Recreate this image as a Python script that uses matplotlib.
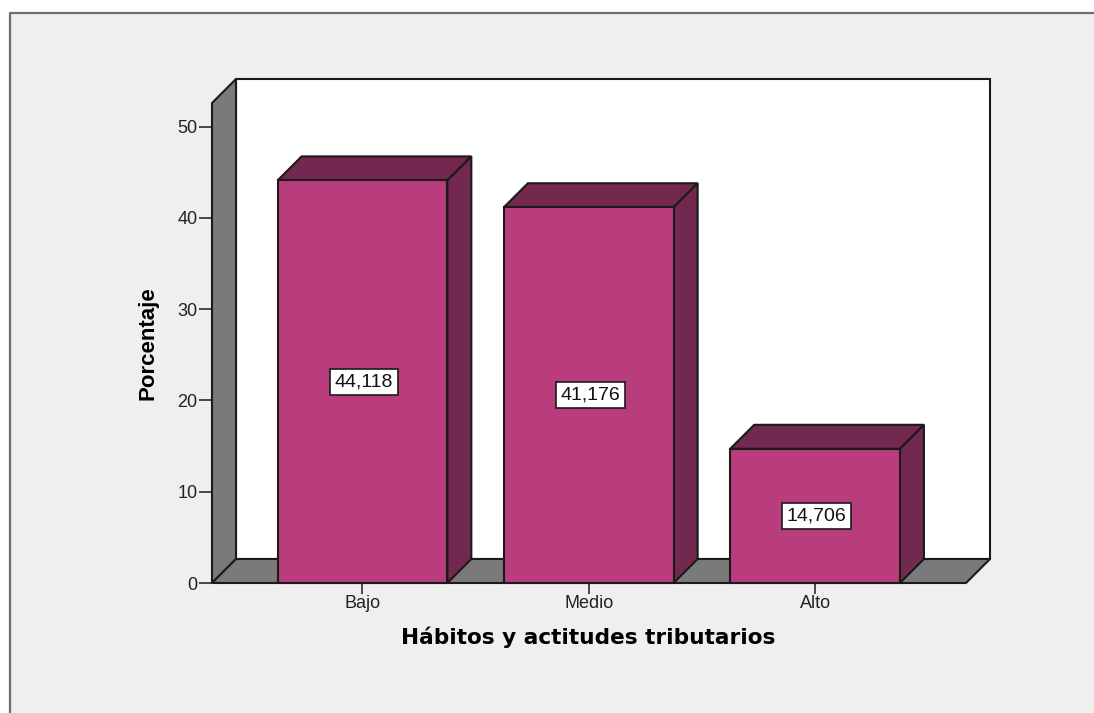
import matplotlib
matplotlib.use('Agg')
import matplotlib.pyplot as plt
from matplotlib.patches import Polygon, Rectangle

plt.rcParams['font.family'] = ['Liberation Sans', 'DejaVu Sans']

categories = ['Bajo', 'Medio', 'Alto']
porcentaje = [44.118, 41.176, 14.706]
value_labels = ['44,118', '41,176', '14,706']
yticks = [0, 10, 20, 30, 40, 50]

W, H = 1094, 713
BG = '#efefef'
BAR = '#b93d7c'
BAR_DARK = '#72284f'
WALL = '#7a7a7a'
EDGE = '#1a1a1a'

fig = plt.figure(figsize=(W / 100, H / 100), dpi=100, facecolor='white')

# grey panel with its dark border on the top and left only
fig.add_artist(Rectangle((10 / W, 0), (W - 10) / W, 1 - 13 / H, transform=fig.transFigure,
                         facecolor=BG, edgecolor='none', zorder=-2))
fig.add_artist(plt.Line2D([10 / W, 10 / W, 1], [0, 1 - 13 / H, 1 - 13 / H],
                          transform=fig.transFigure, color='#6e6e6e', lw=1.6, zorder=-1))

# axes is the front plane of the 3d box
left, right, bottom, top = 212, 966, 583, 103
ax = fig.add_axes([left / W, 1 - bottom / H, (right - left) / W, (bottom - top) / H])
ax.set_facecolor('none')
ax.set_xlim(-0.665, 2.667)
ax.set_ylim(0, 52.6)
xmin, xmax = ax.get_xlim()
ymin, ymax = ax.get_ylim()

# depth of the box, in data units (24 px each way)
dx = 24 / ((right - left) / (xmax - xmin))
dy = 24 / ((bottom - top) / (ymax - ymin))
width = 0.75

def face(pts, color, z):
    ax.add_patch(Polygon(pts, closed=True, facecolor=color, edgecolor=EDGE, lw=1.5,
                         joinstyle='miter', clip_on=False, zorder=z))

# back wall, side wall, floor
face([(xmin + dx, ymin + dy), (xmax + dx, ymin + dy), (xmax + dx, ymax + dy), (xmin + dx, ymax + dy)], 'white', 1)
face([(xmin, ymin), (xmin + dx, ymin + dy), (xmin + dx, ymax + dy), (xmin, ymax)], WALL, 2)
face([(xmin, ymin), (xmax, ymin), (xmax + dx, ymin + dy), (xmin + dx, ymin + dy)], WALL, 2)

for i, v in enumerate(porcentaje):
    x0 = i - width / 2
    x1 = i + width / 2
    z = 3 + i
    face([(x0, v), (x1, v), (x1 + dx, v + dy), (x0 + dx, v + dy)], BAR_DARK, z)
    face([(x1, 0), (x1 + dx, dy), (x1 + dx, v + dy), (x1, v)], BAR_DARK, z)
    face([(x0, 0), (x1, 0), (x1, v), (x0, v)], BAR, z)
    ax.text(i + 0.006, v / 2, value_labels[i], ha='center', va='center', fontsize=14,
            color='#111111', zorder=10,
            bbox=dict(boxstyle='square,pad=0.24', facecolor='white', edgecolor=EDGE, lw=1.2))

for s in ax.spines.values():
    s.set_visible(False)

ax.set_xticks(range(len(categories)))
ax.set_xticklabels(categories, fontsize=13, color='#222222')
ax.set_yticks(yticks)
ax.tick_params(axis='x', length=8, width=1.1, color=EDGE, pad=1)
ax.tick_params(axis='y', length=9.5, width=1.1, color=EDGE, pad=1, labelsize=13, labelcolor='#222222')

fig.text(588 / W, 1 - 637 / H, 'Hábitos y actitudes tributarios', ha='center', va='center',
         fontsize=15.6, fontweight='bold', family=['DejaVu Sans'], color='black')
fig.text(148 / W, 1 - 343 / H, 'Porcentaje', ha='center', va='center', rotation=90,
         fontsize=16, fontweight='bold', color='black')

fig.savefig('out.png', dpi=100, facecolor=fig.get_facecolor())
